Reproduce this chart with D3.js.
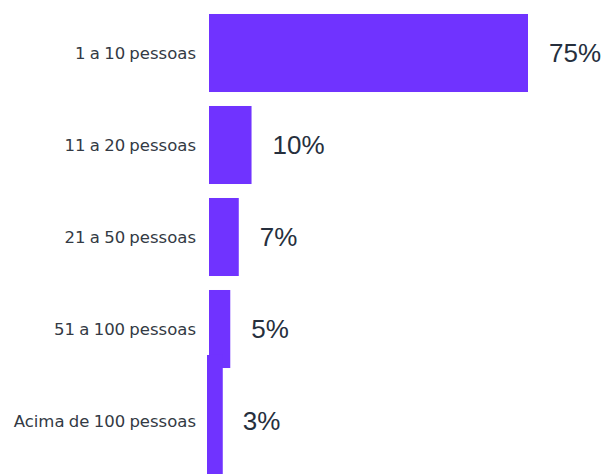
<!DOCTYPE html>
<html>
<head>
<meta charset="utf-8">
<script src="https://cdn.jsdelivr.net/npm/d3@7"></script>
<style>
  html, body { margin: 0; padding: 0; background: #fff; }
  svg { display: block; }
</style>
</head>
<body>
<svg id="chart" width="606" height="474"></svg>
<script>
// Company size distribution
const categories = ["1 a 10 pessoas", "11 a 20 pessoas", "21 a 50 pessoas", "51 a 100 pessoas", "Acima de 100 pessoas"];
const values = [75, 10, 7, 5, 3];
const valueLabels = ["75%", "10%", "7%", "5%", "3%"];

const W = 606, H = 474;
const svg = d3.select("#chart");

const y = d3.scaleBand()
  .domain(categories)
  .range([7, 467])
  .paddingInner(0.152)
  .paddingOuter(0.076);

const x = d3.scaleLinear()
  .domain([0, 75])
  .range([209, 528]);

const barColor = "#7033ff";

// bars; the last one runs off the bottom edge
svg.selectAll("rect.bar")
  .data(values)
  .join("rect")
  .attr("class", "bar")
  .attr("x", (d, i) => i === values.length - 1 ? x(0) - 2 : x(0))
  .attr("y", (d, i) => i === values.length - 1 ? y(categories[i]) - 27 : y(categories[i]))
  .attr("width", (d, i) => x(d) - x(0) + (i === values.length - 1 ? 3 : 0))
  .attr("height", (d, i) => i === values.length - 1 ? H - (y(categories[i]) - 27) : y.bandwidth())
  .attr("fill", barColor);

// category labels
const yAxis = d3.axisLeft(y).tickSize(0).tickPadding(0);
const gAxis = svg.append("g")
  .attr("transform", "translate(196,0)")
  .call(yAxis);
gAxis.select(".domain").remove();
gAxis.selectAll("text")
  .attr("font-family", "'DejaVu Sans', sans-serif")
  .attr("font-size", 16.5)
  .attr("word-spacing", "-1")
  .attr("fill", "#333a44")
  .attr("dy", "0.35em");

// value labels
svg.selectAll("text.val")
  .data(values)
  .join("text")
  .attr("class", "val")
  .attr("x", d => x(d) + 21)
  .attr("y", (d, i) => y(categories[i]) + y.bandwidth() / 2)
  .attr("dy", "0.36em")
  .attr("font-family", "'Liberation Sans', Arial, sans-serif")
  .attr("font-size", 26)
  .attr("fill", "#262f3d")
  .text((d, i) => valueLabels[i]);
</script>
</body>
</html>
